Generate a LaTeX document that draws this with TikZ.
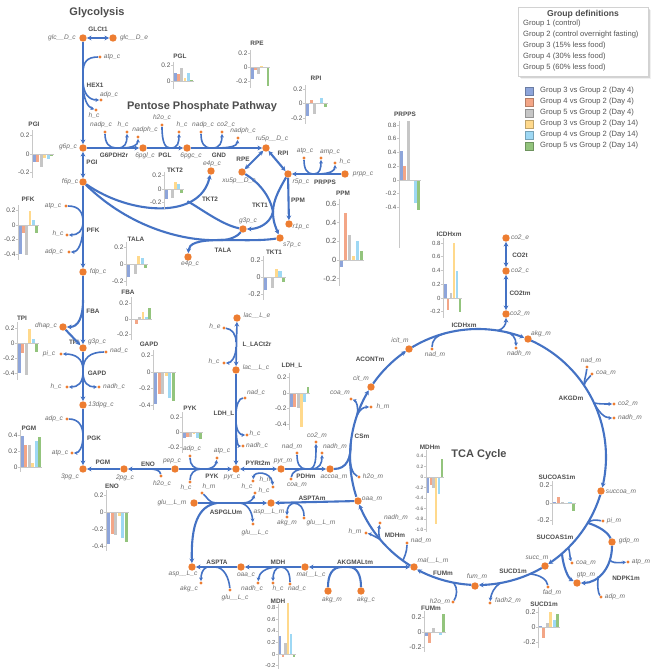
\documentclass[tikz,border=0pt]{standalone}
\usepackage{fontspec}
\setmainfont{Liberation Sans}
\usetikzlibrary{arrows.meta}
\definecolor{ln}{HTML}{4472C4}
\definecolor{dotc}{HTML}{ED7D31}
\definecolor{tx}{HTML}{6E6E6E}
\definecolor{rx}{HTML}{4D4D4D}
\definecolor{tkc}{HTML}{555555}
\definecolor{axc}{HTML}{C8C8C8}
\definecolor{bc1}{HTML}{8EA5DA}
\definecolor{bc2}{HTML}{F3A687}
\definecolor{bc3}{HTML}{C6C6C6}
\definecolor{bc4}{HTML}{FFD98C}
\definecolor{bc5}{HTML}{9ED8F4}
\definecolor{bc6}{HTML}{93C47D}
\tikzset{
 big/.style={circle,fill=dotc,inner sep=0pt,minimum size=7.4pt},
 sml/.style={circle,fill=dotc,inner sep=0pt,minimum size=3.4pt},
 lab/.style={font=\fontsize{6.6}{7}\selectfont\itshape,text=tx,inner sep=0pt},
 rlb/.style={font=\fontsize{6.4}{7}\selectfont\bfseries,text=rx,inner sep=0pt},
 ct/.style={font=\fontsize{6.4}{7}\selectfont\bfseries,text=rx,inner sep=0pt},
 tk/.style={text=tkc,inner sep=0pt},
 ttl/.style={font=\fontsize{11}{13}\selectfont\bfseries,text=rx,inner sep=0pt},
 rxn/.style={draw=ln,line width=2.1pt},
 sd/.style={draw=ln,line width=1.6pt},
 arrF/.style={-{Stealth[length=4.6pt,width=4.8pt]}},
 arrB/.style={{Stealth[length=4.6pt,width=4.8pt]}-{Stealth[length=4.6pt,width=4.8pt]}},
 arrFs/.style={-{Stealth[length=3.6pt,width=3.8pt]}},
 arrBs/.style={{Stealth[length=3.6pt,width=3.8pt]}-{Stealth[length=3.6pt,width=3.8pt]}},
 axl/.style={draw=axc,line width=0.6pt},
 lgx/.style={font=\fontsize{7.6}{9}\selectfont,text=tkc,inner sep=0pt,anchor=west},
}
\newcommand\metab[5]{\node[#1] (#2) at (#3) {}; \node[lab] (#2-l) at (#4) {#5};}
\newcommand\rlab[3]{\node[rlb] (#1) at (#2) {#3};}
\newcommand\mchart[9][6.5]{%
 \foreach \v [count=\i] in {#7}{%
  \pgfmathsetmacro\xa{#2+1+(\i-1)*#5}%
  \pgfmathsetmacro\xb{\xa+0.88*#5}%
  \pgfmathsetmacro\yb{#3-(\v)*#4}%
  \edef\cn{bc\i}%
  \fill[fill=\cn] (\xa,#3) rectangle (\xb,\yb);%
 }%
 \draw[axl] (#2,#8) -- (#2,#9);%
 \draw[axl] (#2,#3) -- ({#2+1.5+6*#5},#3);%
 \foreach \q in {#6}{%
  \pgfmathsetmacro\yq{#3-(\q)*#4}%
  \draw[axl] (#2-1.8,\yq) -- (#2,\yq);%
  \node[tk,font=\fontsize{#1}{#1}\selectfont,anchor=east] at (#2-2.4,\yq) {\q};%
 }%
}
\newcommand\tcaarc[3]{\draw[rxn,#1] plot[domain=#2:#3,samples=40,variable=\tcav] ({478+128*cos(\tcav)},{457+128*sin(\tcav)});}
\newcommand\tcapt[2]{\coordinate (#1) at ({478+128*cos(#2)},{457+128*sin(#2)});}
\begin{document}
\begin{tikzpicture}[x=1pt,y=-1pt]
\useasboundingbox (0,0) rectangle (656,669);
\fill[white] (0,0) rectangle (656,669);

% titles
\node[ttl] (tGly) at (97,13) {Glycolysis};
\node[ttl] (tPPP) at (202,107) {Pentose Phosphate Pathway};
\node[ttl] (tTCA) at (479,455) {TCA Cycle};

% ---------- metabolites ----------
\metab{big}{glcc}{83,38}{62,38}{glc\_\_D\_c}
\metab{big}{glce}{113,38}{134,38}{glc\_\_D\_e}
\metab{sml}{atp1}{100,57}{112,57}{atp\_c}
\metab{sml}{adp1}{101,100}{109,95}{adp\_c}
\metab{sml}{hc1}{96,110}{94,116}{h\_c}
\metab{big}{g6p}{83,148}{68,147}{g6p\_c}
\metab{big}{f6p}{83,182}{70,182}{f6p\_c}
\metab{sml}{atp2}{66,206}{53,206}{atp\_c}
\metab{sml}{hc2}{67,235}{58,234}{h\_c}
\metab{sml}{adp2}{69,252}{54,252}{adp\_c}
\metab{big}{fdp}{83,272}{98,272}{fdp\_c}
\metab{big}{dhap}{63,327}{46,326}{dhap\_c}
\metab{big}{g3p}{83,348}{97,342}{g3p\_c}
\metab{sml}{pic}{61,354}{49,354}{pi\_c}
\metab{sml}{nadc1}{106,352}{119,351}{nad\_c}
\metab{sml}{hc3}{67,387}{56,387}{h\_c}
\metab{sml}{nadhc1}{99,387}{114,387}{nadh\_c}
\metab{big}{dpg}{83,405}{101,405}{13dpg\_c}
\metab{sml}{adp3}{67,419}{54,419}{adp\_c}
\metab{sml}{atp3}{72,453}{60,453}{atp\_c}
\metab{big}{pg3}{83,469}{70,477}{3pg\_c}
\metab{big}{pg2}{124,469}{125,478}{2pg\_c}
\metab{sml}{h2oc1}{161,476}{162,484}{h2o\_c}
\metab{big}{pep}{175,469}{172,461}{pep\_c}
\metab{sml}{adp4}{190,456}{192,449}{adp\_c}
\metab{sml}{atp4}{217,458}{222,451}{atp\_c}
\metab{sml}{hc4}{190,482}{186,488}{h\_c}
\metab{sml}{hm1}{202,493}{209,487}{h\_m}
\metab{big}{pyrc}{236,469}{232,477}{pyr\_c}
\metab{sml}{hc5}{253,481}{247,487}{h\_c}
\metab{sml}{hm2}{273,487}{266,480}{h\_m}
\metab{big}{pyrm}{281,469}{283,461}{pyr\_m}
\metab{sml}{nadm1}{297,453}{292,447}{nad\_m}
\metab{sml}{co2m1}{316,442}{317,436}{co2\_m}
\metab{sml}{nadhm1}{322,453}{335,447}{nadh\_m}
\metab{sml}{coam1}{291,479}{297,485}{coa\_m}
\metab{big}{accoa}{330,469}{334,477}{accoa\_m}
\metab{sml}{coam2}{351,399}{340,393}{coa\_m}
\metab{sml}{hm3}{371,407}{383,407}{h\_m}
\metab{sml}{h2om1}{359,477}{373,477}{h2o\_m}
\metab{big}{cit}{371,387}{361,379}{cit\_m}
\metab{big}{icit}{409,349}{400,341}{icit\_m}
\metab{sml}{nadm2}{432,349}{435,355}{nad\_m}
\metab{sml}{nadhm2}{516,348}{519,354}{nadh\_m}
\metab{big}{akgm}{528,339}{541,334}{akg\_m}
\metab{sml}{nadm3}{587,367}{591,361}{nad\_m}
\metab{sml}{coam3}{592,374}{606,373}{coa\_m}
\metab{sml}{co2m2}{614,404}{628,404}{co2\_m}
\metab{sml}{nadhm3}{614,418}{630,418}{nadh\_m}
\metab{big}{succoa}{601,491}{621,492}{succoa\_m}
\metab{sml}{pim}{603,521}{614,521}{pi\_m}
\metab{big}{gdp}{612,542}{629,541}{gdp\_m}
\metab{sml}{atpm}{628,562}{641,562}{atp\_m}
\metab{big}{gtp}{577,583}{586,575}{gtp\_m}
\metab{sml}{adpm}{601,597}{615,597}{adp\_m}
\metab{sml}{coam4}{572,563}{586,563}{coa\_m}
\metab{big}{succ}{545,566}{537,558}{succ\_m}
\metab{sml}{fadm}{548,587}{552,593}{fad\_m}
\metab{big}{fum}{475,586}{477,577}{fum\_m}
\metab{sml}{fadhm}{490,603}{508,601}{fadh2\_m}
\metab{sml}{h2om2}{453,602}{440,602}{h2o\_m}
\metab{big}{malm}{414,567}{433,561}{mal\_\_L\_m}
\metab{sml}{nadm4}{407,543}{421,541}{nad\_m}
\metab{sml}{nadhm4}{380,523}{396,518}{nadh\_m}
\metab{sml}{hm4}{366,533}{355,532}{h\_m}
\metab{big}{oaam}{358,501}{372,499}{oaa\_m}
\metab{big}{aspm}{271,503}{269,512}{asp\_\_L\_m}
\metab{sml}{akgm2}{287,517}{287,523}{akg\_m}
\metab{sml}{glum2}{304,518}{321,523}{glu\_\_L\_m}
\metab{sml}{hc6}{255,493}{264,491}{h\_c}
\metab{sml}{gluc1}{253,524}{255,533}{glu\_\_L\_c}
\metab{big}{glum1}{194,503}{172,503}{glu\_\_L\_m}
\metab{big}{aspc}{192,567}{183,574}{asp\_\_L\_c}
\metab{sml}{akgc1}{201,583}{189,589}{akg\_c}
\metab{sml}{gluc2}{230,590}{235,598}{glu\_\_L\_c}
\metab{big}{oaac}{241,567}{246,575}{oaa\_c}
\metab{sml}{nadhc2}{258,583}{252,589}{nadh\_c}
\metab{sml}{hc7}{273,583}{278,589}{h\_c}
\metab{sml}{nadc2}{290,584}{297,589}{nad\_c}
\metab{big}{malc}{305,567}{311,575}{mal\_\_L\_c}
\metab{big}{akgm3}{328,591}{332,600}{akg\_m}
\metab{big}{akgc2}{361,591}{366,600}{akg\_c}
\metab{big}{lace}{237,318}{257,316}{lac\_\_L\_e}
\metab{sml}{he}{224,328}{215,327}{h\_e}
\metab{sml}{hc8}{224,363}{214,362}{h\_c}
\metab{big}{lacc}{236,370}{256,368}{lac\_\_L\_c}
\metab{sml}{nadc3}{245,398}{256,393}{nad\_c}
\metab{sml}{hc9}{247,435}{255,434}{h\_c}
\metab{sml}{nadhc3}{243,446}{257,446}{nadh\_c}
\metab{sml}{nadpc1}{105,132}{101,125}{nadp\_c}
\metab{sml}{hc10}{127,132}{123,125}{h\_c}
\metab{sml}{nadphc1}{138,137}{145,130}{nadph\_c}
\metab{big}{pgl6}{143,148}{145,156}{6pgl\_c}
\metab{sml}{h2oc2}{162,125}{162,118}{h2o\_c}
\metab{sml}{hc11}{179,132}{182,125}{h\_c}
\metab{big}{pgc6}{187,148}{191,156}{6pgc\_c}
\metab{sml}{nadpc2}{201,132}{203,125}{nadp\_c}
\metab{sml}{co2c1}{222,132}{226,125}{co2\_c}
\metab{sml}{nadphc2}{238,138}{243,131}{nadph\_c}
\metab{big}{ru5p}{266,148}{272,139}{ru5p\_\_D\_c}
\metab{big}{e4p1}{211,171}{212,164}{e4p\_c}
\metab{big}{xu5p}{242,172}{239,181}{xu5p\_\_D\_c}
\metab{big}{r5p}{288,174}{301,182}{r5p\_c}
\metab{sml}{atp5}{304,158}{305,151}{atp\_c}
\metab{sml}{ampc}{321,158}{330,152}{amp\_c}
\metab{sml}{hc12}{335,163}{345,162}{h\_c}
\metab{big}{prpp}{345,174}{363,174}{prpp\_c}
\metab{big}{r1p}{289,224}{301,227}{r1p\_c}
\metab{big}{g3p2}{243,229}{248,221}{g3p\_c}
\metab{big}{s7p}{280,238}{292,245}{s7p\_c}
\metab{big}{e4p2}{188,257}{190,264}{e4p\_c}
\metab{big}{co2e}{506,238}{520,238}{co2\_e}
\metab{big}{co2c}{506,271}{520,271}{co2\_c}
\metab{big}{co2m}{506,314}{520,314}{co2\_m}

% ---------- reaction labels ----------
\rlab{rGLC}{98,29}{GLCt1}
\rlab{rHEX}{95,85}{HEX1}
\rlab{rPGI}{92,162}{PGI}
\rlab{rPFK}{93,230}{PFK}
\rlab{rFBA}{93,311}{FBA}
\rlab{rTPI}{74,342}{TPI}
\rlab{rGAPD}{97,373}{GAPD}
\rlab{rPGK}{94,438}{PGK}
\rlab{rPGM}{103,462}{PGM}
\rlab{rENO}{148,464}{ENO}
\rlab{rPYK}{212,476}{PYK}
\rlab{rLAC}{257,345}{L\_LACt2r}
\rlab{rLDH}{224,414}{LDH\_L}
\rlab{rPYRt}{258,463}{PYRt2m}
\rlab{rPDH}{306,476}{PDHm}
\rlab{rASPTAm}{312,498}{ASPTAm}
\rlab{rASPGLU}{226,512}{ASPGLUm}
\rlab{rASPTA}{217,562}{ASPTA}
\rlab{rMDH}{278,562}{MDH}
\rlab{rAKGMAL}{355,562}{AKGMALtm}
\rlab{rCS}{362,436}{CSm}
\rlab{rACON}{370,359}{ACONTm}
\rlab{rICDH}{464,325}{ICDHxm}
\rlab{rAKGD}{571,398}{AKGDm}
\rlab{rSUCOAS}{555,537}{SUCOAS1m}
\rlab{rNDPK}{626,578}{NDPK1m}
\rlab{rSUCD}{513,571}{SUCD1m}
\rlab{rFUM}{443,573}{FUMm}
\rlab{rMDHm}{395,535}{MDHm}
\rlab{rCO2t}{520,255}{CO2t}
\rlab{rCO2tm}{520,293}{CO2tm}
\rlab{rG6PDH}{114,155}{G6PDH2r}
\rlab{rPGL}{165,155}{PGL}
\rlab{rGND}{219,155}{GND}
\rlab{rRPI}{283,153}{RPI}
\rlab{rRPE}{243,159}{RPE}
\rlab{rPRPPS}{325,182}{PRPPS}
\rlab{rPPM}{298,200}{PPM}
\rlab{rTKT1}{260,205}{TKT1}
\rlab{rTKT2}{210,199}{TKT2}
\rlab{rTALA}{223,250}{TALA}

% ---------- glycolysis ----------
\draw[rxn,arrB] (glcc) -- (glce);
\draw[rxn,arrF] (glcc) -- (g6p);
\draw[sd] (atp1) .. controls (87,57) and (83,62) .. (83,73);
\draw[sd,arrFs] (83,80) .. controls (83,94) and (89,100) .. (adp1);
\draw[sd,arrFs] (83,82) .. controls (83,100) and (88,107) .. (hc1);
\draw[rxn,arrB] (g6p) -- (f6p);
\draw[rxn,arrF] (f6p) -- (fdp);
\draw[sd] (atp2) .. controls (79,206) and (83,212) .. (83,222);
\draw[sd,arrFs] (83,222) .. controls (83,231) and (78,235) .. (hc2);
\draw[sd,arrFs] (83,225) .. controls (83,243) and (78,252) .. (adp2);
\draw[rxn,arrF] (fdp) -- (g3p);
\draw[rxn,arrF] (83,300) .. controls (83,318) and (78,327) .. (dhap);
\draw[rxn,arrF] (dhap) -- (g3p);
\draw[rxn,arrF] (g3p) -- (dpg);
\draw[sd,arrFs] (83,370) .. controls (83,358) and (75,354) .. (pic);
\draw[sd] (nadc1) .. controls (90,352) and (83,358) .. (83,370);
\draw[sd,arrFs] (83,372) .. controls (83,383) and (78,387) .. (hc3);
\draw[sd,arrFs] (83,372) .. controls (83,383) and (88,387) .. (nadhc1);
\draw[rxn,arrF] (dpg) -- (pg3);
\draw[sd] (adp3) .. controls (78,419) and (83,425) .. (83,436);
\draw[sd,arrFs] (83,436) .. controls (83,447) and (79,453) .. (atp3);
\draw[rxn,arrF] (pg2) -- (pg3);
\draw[rxn,arrF] (pep) -- (pg2);
\draw[sd] (h2oc1) .. controls (160,470) and (155,469) .. (149,469);
\draw[rxn,arrF] (pep) -- (pyrc);
\draw[sd] (adp4) .. controls (190,465) and (194,469) .. (201,469);
\draw[sd] (hc4) .. controls (190,474) and (194,469) .. (201,469);
\draw[sd,arrFs] (205,469) .. controls (213,469) and (216,465) .. (atp4);

% ---------- lactate ----------
\draw[sd,arrB] (lace) -- (lacc);
\draw[sd] (he) .. controls (232,329) and (236,334) .. (236,342);
\draw[sd,arrFs] (236,347) .. controls (236,357) and (231,363) .. (hc8);
\draw[rxn,arrF] (lacc) -- (pyrc);
\draw[sd] (236,415) .. controls (236,405) and (239,398) .. (nadc3);
\draw[sd,arrFs] (236,420) .. controls (236,431) and (240,435) .. (hc9);
\draw[sd,arrFs] (236,424) .. controls (236,440) and (238,446) .. (nadhc3);

% ---------- pyruvate transport / PDH ----------
\draw[rxn,arrB] (pyrc) -- (pyrm);
\draw[sd,arrBs] (hc5) .. controls (254,471) and (271,471) .. (hm2);
\draw[rxn,arrF] (pyrm) -- (accoa);
\draw[sd] (nadm1) .. controls (297,464) and (300,469) .. (306,469);
\draw[sd] (coam1) .. controls (292,472) and (297,469) .. (304,469);
\draw[sd,arrFs] (309,469) .. controls (316,469) and (316,458) .. (co2m1);
\draw[sd,arrFs] (311,469) .. controls (320,469) and (322,463) .. (nadhm1);

% ---------- TCA cycle ----------
\tcaarc{arrF}{161.9}{211.4}
\tcaarc{arrF}{215}{235.7}
\tcaarc{arrF}{239.1}{291.2}
\tcaarc{arrF}{294.6}{373.8}
\tcaarc{arrF}{17.2}{56.7}
\tcaarc{arrF}{60.1}{89.6}
\tcaarc{arrF}{93}{118.4}
\tcaarc{arrF}{121.9}{158.2}
\tcapt{jCS}{186}
\draw[rxn] (accoa) .. controls (347,469) and (351,458) .. (jCS);
\tcapt{jCo}{199}
\draw[sd,arrFs] (jCo) .. controls (359,407) and (356,401) .. (coam2);
\draw[sd,arrFs] (jCo) .. controls (360,409) and (364,407) .. (hm3);
\tcapt{jH2O}{181}
\draw[sd] (h2om1) .. controls (352,474) and (350,465) .. (jH2O);
\tcapt{jI1}{255}
\draw[sd] (nadm2) .. controls (432,340) and (436,336) .. (jI1);
\tcapt{jI2}{279}
\draw[sd,arrF] (jI2) .. controls (503,329) and (506,325) .. (co2m);
\tcapt{jI3}{283}
\draw[sd,arrFs] (jI3) .. controls (512,333) and (516,338) .. (nadhm2);
\tcapt{jK1}{326}
\draw[sd] (nadm3) .. controls (586,376) and (584,380) .. (jK1);
\draw[sd] (coam3) .. controls (588,379) and (585,381) .. (jK1);
\tcapt{jK2}{335}
\draw[sd,arrFs] (jK2) .. controls (598,404) and (604,404) .. (co2m2);
\draw[sd,arrFs] (jK2) .. controls (598,411) and (604,418) .. (nadhm3);
\tcapt{jS1}{31}
\draw[sd] (pim) .. controls (596,520) and (592,519) .. (jS1);
\draw[rxn] (gdp) .. controls (608,532) and (598,526) .. (jS1);
\tcapt{jS2}{45}
\draw[sd,arrFs] (jS2) .. controls (570,553) and (570,558) .. (coam4);
\tcapt{jS3}{49}
\draw[rxn,arrF] (jS3) .. controls (563,566) and (568,578) .. (gtp);
\draw[rxn,arrF] (gdp) .. controls (612,568) and (598,583) .. (gtp);
\draw[sd,arrFs] (609.5,559.4) .. controls (611,563) and (617,563) .. (atpm);
\draw[sd] (598.4,576.1) .. controls (597,585) and (598,593) .. (adpm);
\tcapt{jD1}{66}
\draw[sd] (fadm) .. controls (547,580) and (541,575) .. (jD1);
\tcapt{jD2}{80}
\draw[sd,arrFs] (jD2) .. controls (494,587) and (491,594) .. (fadhm);
\tcapt{jF1}{101}
\draw[sd] (h2om2) .. controls (457,596) and (458,588) .. (jF1);
\tcapt{jM1}{126}
\draw[sd] (nadm4) .. controls (407,552) and (404,558) .. (jM1);
\tcapt{jM2}{140}
\draw[sd,arrFs] (jM2) .. controls (378,533) and (379,528) .. (nadhm4);
\draw[sd,arrFs] (jM2) .. controls (374,536) and (370,534) .. (hm4);

% ---------- aspartate / malate shuttles ----------
\draw[rxn,arrF] (oaam) -- (aspm);
\draw[sd] (glum2) .. controls (304,508) and (300,503) .. (293,503);
\draw[sd,arrFs] (296,503) .. controls (289,503) and (287,508) .. (akgm2);
\draw[rxn,arrF] (glum1) -- (aspm);
\draw[sd] (hm1) .. controls (207,497) and (209,503) .. (216,503);
\draw[rxn,arrF] (217,503) .. controls (198,506) and (191,525) .. (aspc);
\draw[sd,arrFs] (243,503) .. controls (250,503) and (253,499) .. (hc6);
\draw[sd,arrFs] (240,503) .. controls (248,504) and (252,512) .. (gluc1);
\draw[rxn,arrB] (malc) -- (malm);
\draw[rxn] (akgm3) .. controls (328,575) and (332,567) .. (342,567);
\draw[rxn] (349,567) .. controls (357,567) and (361,575) .. (akgc2);
\draw[rxn,arrF] (malc) -- (oaac);
\draw[sd] (nadc2) .. controls (290,573) and (287,567) .. (281,567);
\draw[sd,arrFs] (281,567) .. controls (275,567) and (273,573) .. (hc7);
\draw[sd,arrFs] (279,567) .. controls (265,567) and (259,573) .. (nadhc2);
\draw[rxn,arrF] (oaac) -- (aspc);
\draw[sd] (gluc2) .. controls (229,578) and (224,567) .. (215,567);
\draw[sd,arrFs] (207,567) .. controls (202,569) and (201,575) .. (akgc1);

% ---------- pentose phosphate ----------
\draw[rxn,arrF] (g6p) -- (pgl6);
\draw[sd] (nadpc1) .. controls (105,143) and (109,148) .. (116,148);
\draw[sd,arrFs] (118,148) .. controls (125,148) and (127,143) .. (hc10);
\draw[sd,arrFs] (120,148) .. controls (133,148) and (138,145) .. (nadphc1);
\draw[rxn,arrF] (pgl6) -- (pgc6);
\draw[sd] (h2oc2) .. controls (162,142) and (165,148) .. (170,148);
\draw[sd,arrFs] (171,148) .. controls (178,148) and (179,142) .. (hc11);
\draw[rxn,arrF] (pgc6) -- (ru5p);
\draw[sd] (nadpc2) .. controls (201,143) and (204,148) .. (211,148);
\draw[sd,arrFs] (213,148) .. controls (220,148) and (222,142) .. (co2c1);
\draw[sd,arrFs] (215,148) .. controls (231,148) and (237,146) .. (nadphc2);
\draw[rxn,arrB] (ru5p) -- (r5p);
\draw[rxn,arrB] (ru5p) -- (xu5p);
\draw[rxn,arrF] (prpp) -- (r5p);
\draw[sd] (atp5) .. controls (304,169) and (307,174) .. (313,174);
\draw[sd,arrFs] (314,174) .. controls (320,174) and (321,168) .. (ampc);
\draw[sd,arrFs] (316,174) .. controls (332,174) and (335,170) .. (hc12);
\draw[rxn,arrF] (r5p) -- (r1p);
\coordinate (jT1) at (273,212);
\draw[rxn] (xu5p) .. controls (258,182) and (270,195) .. (jT1);
\draw[rxn] (r5p) .. controls (280,188) and (273,200) .. (jT1);
\draw[rxn,arrF] (jT1) .. controls (273,222) and (276,228) .. (s7p);
\draw[rxn,arrF] (jT1) .. controls (270,224) and (258,229) .. (g3p2);
\draw[rxn,arrF] (f6p) .. controls (130,215) and (200,220) .. (e4p1);
\coordinate (jT2) at (187.4,201.2);
\draw[rxn] (g3p2) .. controls (222,225) and (200,208) .. (jT2);
\coordinate (jTA) at (222,240);
\draw[rxn] (f6p) .. controls (130,228) and (185,242) .. (jTA);
\draw[rxn,arrF] (jTA) .. controls (196,240) and (189,244) .. (e4p2);
\draw[rxn] (s7p) .. controls (260,241) and (240,240) .. (jTA);
\draw[rxn] (g3p2) .. controls (238,236) and (230,240) .. (jTA);

% ---------- CO2 transport ----------
\draw[sd,arrB] (co2e) -- (co2c);
\draw[sd,arrB] (co2c) -- (co2m);

% ---------- charts ----------
\mchart{173}{81}{80}{3.2}{0.2,0}{0.1,0.09,0.16,0.04,0.1,0.01}{62}{89}
\node[ct] (cPGL) at (180,56) {PGL};
\mchart{250}{67.5}{70}{3.1}{0.2,0,-0.2}{-0.17,-0.03,-0.09,0.02,0.005,-0.27}{50}{88}
\node[ct] (cRPE) at (257,43) {RPE};
\mchart{305}{103.5}{72}{3.5}{0.2,0,-0.2}{-0.18,0.05,-0.14,0.01,0.08,-0.05}{85}{124}
\node[ct] (cRPI) at (316,78) {RPI};
\mchart{32}{154}{92}{3.4}{0.2,0,-0.2}{-0.09,-0.09,-0.14,-0.04,-0.05,-0.02}{130}{178}
\node[ct] (cPGI) at (34,124) {PGI};
\mchart{164}{189}{68}{3.0}{0.2,0,-0.2}{-0.15,-0.02,-0.13,0.1,0.07,-0.06}{172}{209}
\node[ct] (cTKT2) at (175,170) {TKT2};
\mchart{18}{225}{73}{3.2}{0.2,0,-0.2,-0.4}{-0.4,-0.11,-0.41,0.19,0.07,-0.11}{205}{260}
\node[ct] (cPFK) at (28,199) {PFK};
\mchart{126}{264}{85}{3.4}{0.2,0,-0.2}{-0.15,-0.01,-0.12,0.09,0.07,-0.05}{242}{286}
\node[ct] (cTALA) at (136,239) {TALA};
\mchart{131}{319}{78}{3.2}{0.2,0,-0.2}{0.005,-0.07,0.02,0.09,0.03,0.14}{297}{340}
\node[ct] (cFBA) at (128,292) {FBA};
\mchart{17}{343}{76}{3.4}{0.2,0,-0.2,-0.4}{-0.4,-0.13,-0.42,0.18,0.05,-0.12}{322}{380}
\node[ct] (cTPI) at (22,318) {TPI};
\mchart{153}{372}{83}{3.5}{0.2,0,-0.2,-0.4}{-0.38,-0.26,-0.27,-0.05,-0.31,-0.35}{350}{410}
\node[ct] (cGAPD) at (149,344) {GAPD};
\mchart{182}{432}{75}{3.2}{0.2,0,-0.2}{-0.08,-0.06,-0.06,-0.02,-0.08,-0.09}{412}{453}
\node[ct] (cPYK) at (190,408) {PYK};
\mchart{289}{393}{78}{3.3}{0.2,0,-0.2,-0.4}{-0.18,-0.18,-0.19,-0.43,-0.12,0.08}{373}{430}
\node[ct] (cLDH) at (292,366) {LDH\_L};
\mchart{20}{467}{80}{3.4}{0.4,0.2,0}{0.39,0.27,0.28,0.05,0.32,0.37}{430}{472}
\node[ct] (cPGM) at (29,428) {PGM};
\mchart{106}{512}{85}{3.5}{0.2,0,-0.2,-0.4}{-0.38,-0.26,-0.27,-0.05,-0.31,-0.35}{490}{551}
\node[ct] (cENO) at (112,486) {ENO};
\mchart[5.8]{278}{654}{58}{2.7}{0.8,0.6,0.4,0.2,0,-0.2}{0.31,-0.06,0.19,0.88,0.34,-0.05}{604}{669}
\node[ct] (cMDH) at (278,601) {MDH};
\mchart[7.5]{339}{260}{93.5}{3.9}{0.6,0.4,0.2,0,-0.2}{-0.08,0.5,0.27,0.04,0.2,0.1}{199}{286}
\node[ct] (cPPM) at (343,193) {PPM};
\mchart[7]{263}{277}{85}{3.6}{0.2,0,-0.2}{-0.15,-0.01,-0.13,0.1,0.07,-0.06}{256}{300}
\node[ct] (cTKT1) at (274,252) {TKT1};
\mchart[6.2]{399}{180}{68.7}{3.4}{0.8,0.6,0.4,0.2,0,-0.2,-0.4}{0.42,0.2,0.86,-0.02,-0.34,-0.43}{121}{248}
\node[ct] (cPRPPS) at (405,114) {PRPPS};
\mchart[6]{443}{298}{68.75}{2.9}{0.8,0.6,0.4,0.2,0,-0.2}{0.2,-0.17,0.07,0.8,0.4,-0.2}{238}{318}
\node[ct] (cICDH) at (449,234) {ICDHxm};
\mchart[4.8]{426}{477}{52.5}{2.7}{0.4,0.2,0,-0.2,-0.4,-0.6,-0.8,-1.0}{-0.3,-0.15,-0.2,-0.9,-0.33,0.35}{450}{532}
\node[ct] (cMDHm) at (430,447) {MDHm};
\mchart[7]{552}{503}{87.5}{3.8}{0.2,0,-0.2}{0.01,0.07,0.01,-0.01,0.01,-0.09}{481}{525}
\node[ct] (cSUCOAS) at (557,477) {SUCOAS1m};
\mchart[7]{538}{627}{75}{3.4}{0.2,0,-0.2}{0.02,-0.15,0.05,0.2,0.1,0.17}{607}{648}
\node[ct] (cSUCD) at (544,604) {SUCD1m};
\mchart[7]{424}{632}{75}{3.4}{0.2,0,-0.2}{-0.05,-0.15,0.06,-0.01,-0.04,0.24}{611}{652}
\node[ct] (cFUM) at (431,608) {FUMm};

% ---------- legend ----------
\foreach \s in {1,...,5}{\fill[black,opacity=0.06] (518+\s*0.6,7+\s*0.6) rectangle (648+\s*0.6,76+\s*0.6);}
\path[draw=gray!35,fill=white] (518,7) rectangle (648,76);
\node[font=\fontsize{8.6}{10}\selectfont\bfseries,text=rx,inner sep=0pt] (lgT) at (583,14) {Group definitions};
\node[lgx] (lg1) at (523,23.5) {Group 1 (control)};
\node[lgx] (lg2) at (523,34.5) {Group 2 (control overnight fasting)};
\node[lgx] (lg3) at (523,45.5) {Group 3 (15\% less food)};
\node[lgx] (lg4) at (523,56.5) {Group 4 (30\% less food)};
\node[lgx] (lg5) at (523,67.5) {Group 5 (60\% less food)};
\foreach \yy/\cc/\tt [count=\k] in {91/bc1/{Group 3 vs Group 2 (Day 4)},102/bc2/{Group 4 vs Group 2 (Day 4)},113/bc3/{Group 5 vs Group 2 (Day 4)},124/bc4/{Group 3 vs Group 2 (Day 14)},135/bc5/{Group 4 vs Group 2 (Day 14)},146/bc6/{Group 5 vs Group 2 (Day 14)}}{
 \filldraw[fill=\cc,draw=\cc!75!black,line width=0.4pt] (525.5,\yy-3.8) rectangle (533,\yy+3.8);
 \node[lgx] (lgi\k) at (540,\yy) {\tt};
}
\end{tikzpicture}
\end{document}
